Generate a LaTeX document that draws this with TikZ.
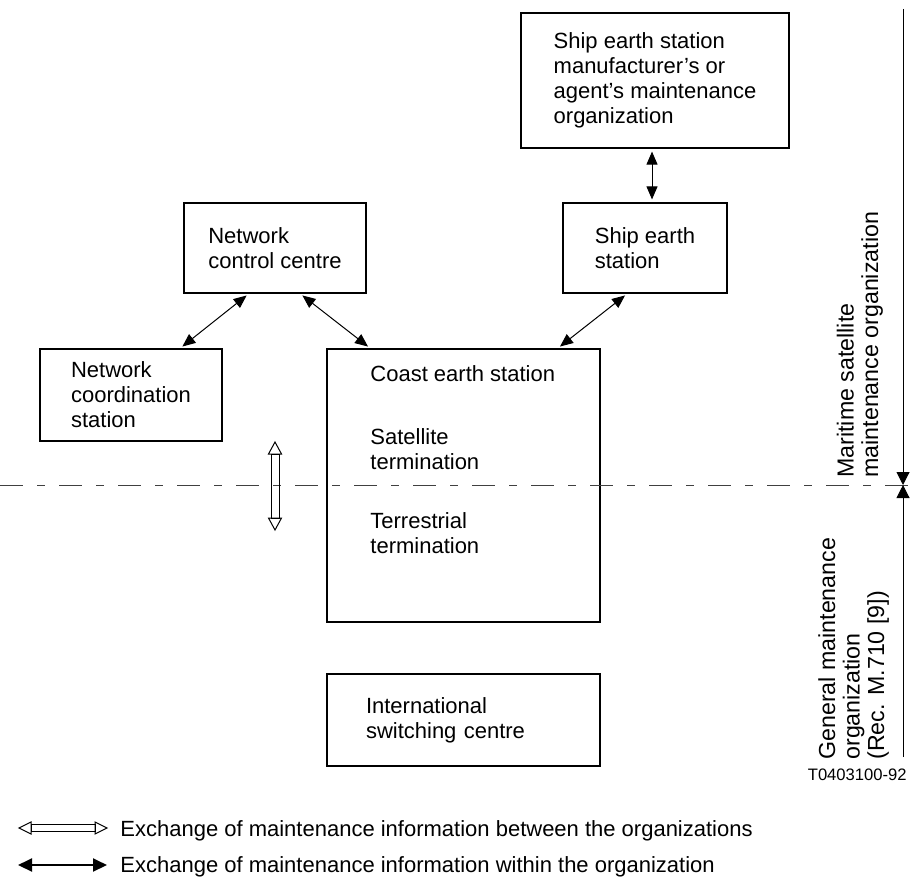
\documentclass[tikz,border=0pt]{standalone}
\usepackage{fontspec}
\setmainfont{Liberation Sans}
\usetikzlibrary{arrows.meta,calc}

\tikzset{
  box/.style={draw,line width=0.6pt,align=left,inner sep=0pt,font=\fontsize{11}{12.5}\selectfont},
  txt/.style={inner sep=0pt,align=left,font=\fontsize{11}{12.5}\selectfont},
  vtxt/.style={inner sep=0pt,align=left,rotate=90,font=\fontsize{11.6}{12.2}\selectfont},
  ctip/.tip={Triangle[length=6.5pt,width=5.5pt]},
  conn/.style={ctip-ctip,line width=0.5pt,shorten <=1.5pt,shorten >=1.5pt},
  bigtip/.tip={Triangle[length=6.5pt,width=6.5pt]}
}

\begin{document}
\begin{tikzpicture}[x=0.5pt,y=-0.5pt]
\useasboundingbox (0,0) rectangle (913,877);

% boxes
\node[box,minimum width=134pt,minimum height=67.5pt] (mfr) at (655,80.5) {Ship earth station\\manufacturer's or\\agent's maintenance\\organization};
\node[box,minimum width=82pt,minimum height=45pt] (ses) at (645,248) {Ship earth\\station};
\node[box,minimum width=91pt,minimum height=45pt] (ncc) at (275,248) {Network\\control centre};
\node[box,minimum width=91pt,minimum height=46pt] (ncs) at (131,395) {Network\\coordination\\station};
\node[box,minimum width=136.5pt,minimum height=136.5pt] (ces) at (463.5,485.5) {};
\node[box,minimum width=136.5pt,minimum height=46pt,text width=97.5pt] (isc) at (463.5,720) {International\\switching centre};

% texts in the coast earth station (base = last line)
\node[txt,anchor=base west] (cestitle) at (370,381) {Coast earth station};
\node[txt,anchor=base west] (satterm) at (370,469) {Satellite\\termination};
\node[txt,anchor=base west] (terterm) at (370,553) {Terrestrial\\termination};

% arrows within the organization
\draw[conn] ($(mfr.south)+(-3,0)$) -- ($(ses.north)+(7,0)$);
\draw[conn] ($(ncc.south)+(-26,0)$) -- ($(ncs.north)+(49,0)$);
\draw[conn] ($(ncc.south)+(25,0)$) -- ($(ces.north west)+(44,0)$);
\draw[conn] ($(ses.south west)+(65,0)$) -- ($(ces.north east)+(-43,0)$);

% border between the organizations
\coordinate (dl) at (0,485);
\coordinate (dr) at (913,485);
\draw[black!75,line width=0.5pt,dash pattern=on 11.5pt off 7pt on 4pt off 7pt] (dl) -- (dr);

\coordinate (topmark) at (903,9);
\coordinate (divide) at (903,485);
\coordinate (botmark) at (903,757);
\draw[line width=0.5pt,-bigtip] (topmark) -- (divide);
\draw[line width=0.5pt,-bigtip] (botmark) -- (divide);

\node[vtxt,anchor=base west] (maritime) at (878,478) {Maritime satellite\\maintenance organization};
\node[vtxt,anchor=base west] (general) at (884,760) {General maintenance\\organization\\(Rec. M.710 [9])};
\node[inner sep=0pt,anchor=base east,font=\fontsize{8.3}{10}\selectfont] (figno) at (907,780) {T0403100-92};

% exchange between the organizations
\coordinate (hv1) at (275,442);
\coordinate (hv2) at (275,530);
\draw[line width=0.5pt] (hv1) -- ++(6.5,12) -- ++(-13,0) -- cycle;
\draw[line width=0.5pt] (hv2) -- ++(6.5,-12) -- ++(-13,0) -- cycle;
\draw[line width=0.5pt] ($(hv1)+(-4,12)$) rectangle ($(hv2)+(4,-12)$);

% legend
\coordinate (hl1) at (19,828);
\coordinate (hl2) at (107,828);
\draw[line width=0.5pt] (hl1) -- ++(12,-6) -- ++(0,12) -- cycle;
\draw[line width=0.5pt] (hl2) -- ++(-12,-6) -- ++(0,12) -- cycle;
\draw[line width=0.5pt] ($(hl1)+(12,-3.5)$) rectangle ($(hl2)+(-12,3.5)$);
\node[txt,anchor=base west] (between) at (120,836) {Exchange of maintenance information between the organizations};

\coordinate (fl1) at (18,865);
\coordinate (fl2) at (107,865);
\draw[line width=1pt,{Triangle[length=7pt,width=6.5pt]}-{Triangle[length=7pt,width=6.5pt]}] (fl1) -- (fl2);
\node[txt,anchor=base west] (within) at (120,872) {Exchange of maintenance information within the organization};

\end{tikzpicture}
\end{document}
